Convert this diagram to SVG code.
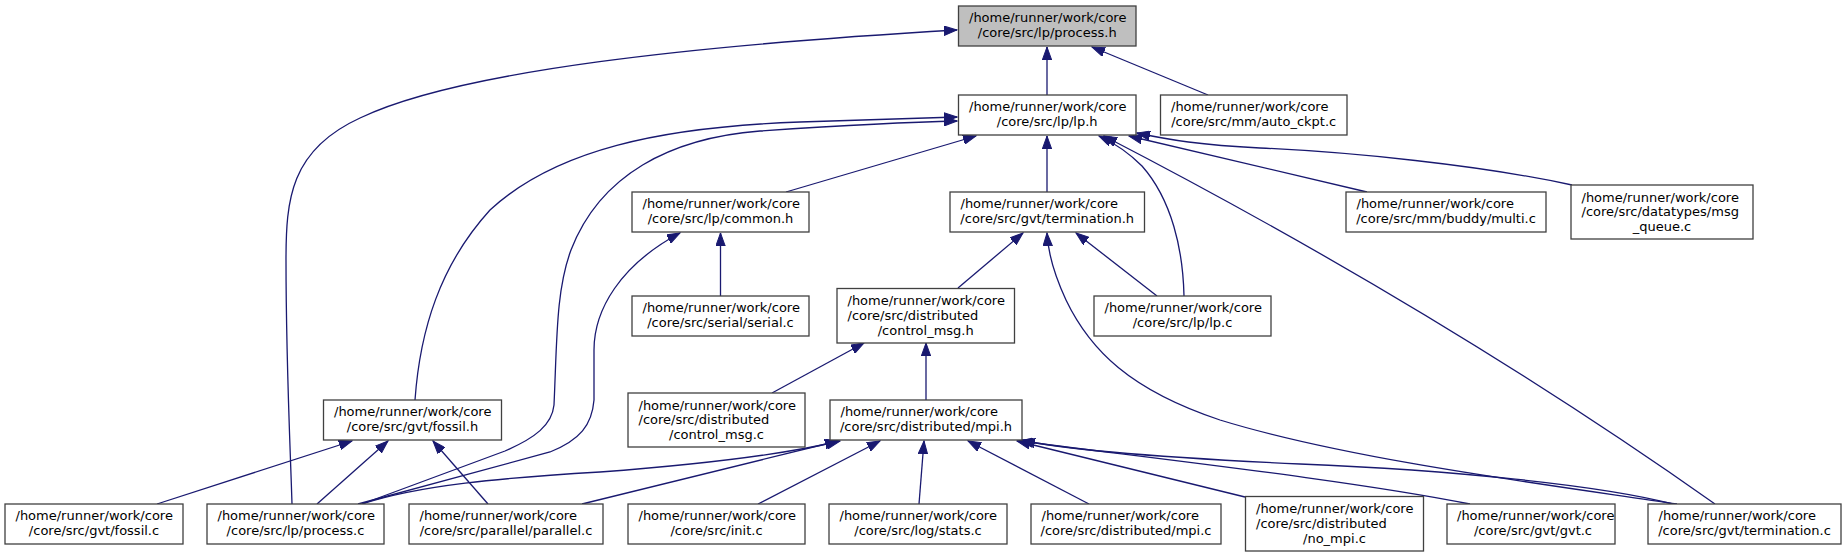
<svg xmlns="http://www.w3.org/2000/svg" width="1847" height="557" viewBox="0 0 1847 557">
<defs>
<style>
.box{fill:#ffffff;stroke:#404040;stroke-width:1.3}
.focus{fill:#bfbfbf;stroke:#404040;stroke-width:1.3}
text{font-family:"DejaVu Sans","Liberation Sans",sans-serif;font-size:13px;fill:#000}
.c{text-anchor:middle}
.e{fill:none;stroke:#191970;stroke-width:1.3}
</style>
<marker id="ah" viewBox="0 0 14 10" refX="13" refY="5" markerWidth="14" markerHeight="10" orient="auto" markerUnits="userSpaceOnUse">
<path d="M0,0.3 L13,5 L0,9.7 z" fill="#191970" stroke="#191970" stroke-width="1"/>
</marker>
</defs>
<rect width="1847" height="557" fill="#ffffff"/>
<g id="edges">
<path class="e" marker-end="url(#ah)" d="M1047,95 L1047,47"/>
<path class="e" marker-end="url(#ah)" d="M1208,95 L1092,47"/>
<path class="e" marker-end="url(#ah)" d="M292,504 C290,440 286,360 286,260 C286,200 290,150 360,118 C460,70 700,45 957,30"/>
<path class="e" marker-end="url(#ah)" d="M1047,192 L1047,136"/>
<path class="e" marker-end="url(#ah)" d="M786,192 L976,136"/>
<path class="e" marker-end="url(#ah)" d="M415,400 C420,330 440,265 490,210 C555,150 660,127 800,122 C880,119 920,118 957,117"/>
<path class="e" marker-end="url(#ah)" d="M362,504 L505,451 C535,438 552,425 554,405 C557,340 556,290 571,250 C600,175 670,138 760,131 C850,125 910,122 957,121"/>
<path class="e" marker-end="url(#ah)" d="M1184,296 C1183,250 1172,200 1142,166 C1126,150 1112,142 1099,136"/>
<path class="e" marker-end="url(#ah)" d="M1715,504 Q1440,310 1104,136"/>
<path class="e" marker-end="url(#ah)" d="M1367,192 L1129,136"/>
<path class="e" marker-end="url(#ah)" d="M1572,185 C1480,165 1350,152 1260,148 C1200,145 1170,140 1137,133"/>
<path class="e" marker-end="url(#ah)" d="M720.5,296 L720.5,233"/>
<path class="e" marker-end="url(#ah)" d="M958,288 L1023,233"/>
<path class="e" marker-end="url(#ah)" d="M1157,296 L1076,233"/>
<path class="e" marker-end="url(#ah)" d="M1677,504 C1550,485 1350,460 1220,420 C1130,390 1090,350 1066,300 C1053,272 1048,252 1047,233"/>
<path class="e" marker-end="url(#ah)" d="M772,393 L864,343"/>
<path class="e" marker-end="url(#ah)" d="M926,400 L926,343"/>
<path class="e" marker-end="url(#ah)" d="M157,504 L352,441"/>
<path class="e" marker-end="url(#ah)" d="M317,504 L388,441"/>
<path class="e" marker-end="url(#ah)" d="M488,504 L433,441"/>
<path class="e" marker-end="url(#ah)" d="M358,504 L550,452 C580,440 592,425 594,400 L594,350 C594,310 620,265 680,233"/>
<path class="e" marker-end="url(#ah)" d="M362,504 C420,485 500,478 600,472 C720,463 790,453 840,441"/>
<path class="e" marker-end="url(#ah)" d="M582,504 L838,441"/>
<path class="e" marker-end="url(#ah)" d="M758,504 L880,441"/>
<path class="e" marker-end="url(#ah)" d="M919,504 L924,441"/>
<path class="e" marker-end="url(#ah)" d="M1089,504 L968,441"/>
<path class="e" marker-end="url(#ah)" d="M1245,497 L1017,441"/>
<path class="e" marker-end="url(#ah)" d="M1470,504 C1350,480 1150,458 1020,441"/>
<path class="e" marker-end="url(#ah)" d="M1673,504 C1600,485 1450,470 1300,464 C1150,457 1060,449 1022,440"/>
</g>
<g id="n_process_h"><rect class="focus" x="958.5" y="6" width="177.5" height="40"/><text x="969" y="22.3">/home/runner/work/core</text><text class="c" x="1047.2" y="37.3">/core/src/lp/process.h</text></g>
<g id="n_lp_h"><rect class="box" x="958.5" y="95" width="177.5" height="40"/><text x="969" y="111.3">/home/runner/work/core</text><text class="c" x="1047.2" y="126.3">/core/src/lp/lp.h</text></g>
<g id="n_auto_ckpt_c"><rect class="box" x="1160.5" y="95" width="186.5" height="40"/><text x="1171" y="111.3">/home/runner/work/core</text><text class="c" x="1253.7" y="126.3">/core/src/mm/auto_ckpt.c</text></g>
<g id="n_common_h"><rect class="box" x="632" y="192" width="177" height="40"/><text x="642.5" y="208.3">/home/runner/work/core</text><text class="c" x="720.5" y="223.3">/core/src/lp/common.h</text></g>
<g id="n_termination_h"><rect class="box" x="950" y="192" width="194.5" height="40"/><text x="960.5" y="208.3">/home/runner/work/core</text><text class="c" x="1047.2" y="223.3">/core/src/gvt/termination.h</text></g>
<g id="n_multi_c"><rect class="box" x="1346" y="192" width="200" height="40"/><text x="1356.5" y="208.3">/home/runner/work/core</text><text class="c" x="1446" y="223.3">/core/src/mm/buddy/multi.c</text></g>
<g id="n_msg_queue_c"><rect class="box" x="1571" y="185" width="182" height="54"/><text x="1581.5" y="201.5">/home/runner/work/core</text><text x="1581.5" y="216.3">/core/src/datatypes/msg</text><text class="c" x="1662" y="231">_queue.c</text></g>
<g id="n_serial_c"><rect class="box" x="632" y="296" width="177" height="40"/><text x="642.5" y="312.3">/home/runner/work/core</text><text class="c" x="720.5" y="327.3">/core/src/serial/serial.c</text></g>
<g id="n_control_msg_h"><rect class="box" x="837" y="288.5" width="177.5" height="54.5"/><text x="847.5" y="305">/home/runner/work/core</text><text x="847.5" y="319.8">/core/src/distributed</text><text class="c" x="925.7" y="334.5">/control_msg.h</text></g>
<g id="n_lp_c"><rect class="box" x="1094" y="296" width="177" height="40"/><text x="1104.5" y="312.3">/home/runner/work/core</text><text class="c" x="1182.5" y="327.3">/core/src/lp/lp.c</text></g>
<g id="n_fossil_h"><rect class="box" x="323.5" y="400" width="178" height="40"/><text x="334" y="416.3">/home/runner/work/core</text><text class="c" x="412.5" y="431.3">/core/src/gvt/fossil.h</text></g>
<g id="n_control_msg_c"><rect class="box" x="628" y="393" width="177" height="54"/><text x="638.5" y="409.5">/home/runner/work/core</text><text x="638.5" y="424.3">/core/src/distributed</text><text class="c" x="716.5" y="439">/control_msg.c</text></g>
<g id="n_mpi_h"><rect class="box" x="830" y="400" width="192" height="40"/><text x="840.5" y="416.3">/home/runner/work/core</text><text class="c" x="926" y="431.3">/core/src/distributed/mpi.h</text></g>
<g id="n_fossil_c"><rect class="box" x="5" y="504" width="178" height="40"/><text x="15.5" y="520.3">/home/runner/work/core</text><text class="c" x="94" y="535.3">/core/src/gvt/fossil.c</text></g>
<g id="n_process_c"><rect class="box" x="207" y="504" width="177" height="40"/><text x="217.5" y="520.3">/home/runner/work/core</text><text class="c" x="295.5" y="535.3">/core/src/lp/process.c</text></g>
<g id="n_parallel_c"><rect class="box" x="409" y="504" width="194" height="40"/><text x="419.5" y="520.3">/home/runner/work/core</text><text class="c" x="506" y="535.3">/core/src/parallel/parallel.c</text></g>
<g id="n_init_c"><rect class="box" x="628" y="504" width="177" height="40"/><text x="638.5" y="520.3">/home/runner/work/core</text><text class="c" x="716.5" y="535.3">/core/src/init.c</text></g>
<g id="n_stats_c"><rect class="box" x="829" y="504" width="178" height="40"/><text x="839.5" y="520.3">/home/runner/work/core</text><text class="c" x="918" y="535.3">/core/src/log/stats.c</text></g>
<g id="n_mpi_c"><rect class="box" x="1031" y="504" width="190" height="40"/><text x="1041.5" y="520.3">/home/runner/work/core</text><text class="c" x="1126" y="535.3">/core/src/distributed/mpi.c</text></g>
<g id="n_no_mpi_c"><rect class="box" x="1245.5" y="496.5" width="178" height="54.5"/><text x="1256" y="513">/home/runner/work/core</text><text x="1256" y="527.8">/core/src/distributed</text><text class="c" x="1334.5" y="542.5">/no_mpi.c</text></g>
<g id="n_gvt_c"><rect class="box" x="1447" y="504" width="168" height="40"/><text x="1457" y="520.3">/home/runner/work/core</text><text class="c" x="1533" y="535.3">/core/src/gvt/gvt.c</text></g>
<g id="n_termination_c"><rect class="box" x="1648" y="504" width="193" height="40"/><text x="1658.5" y="520.3">/home/runner/work/core</text><text class="c" x="1744.5" y="535.3">/core/src/gvt/termination.c</text></g>
</svg>
